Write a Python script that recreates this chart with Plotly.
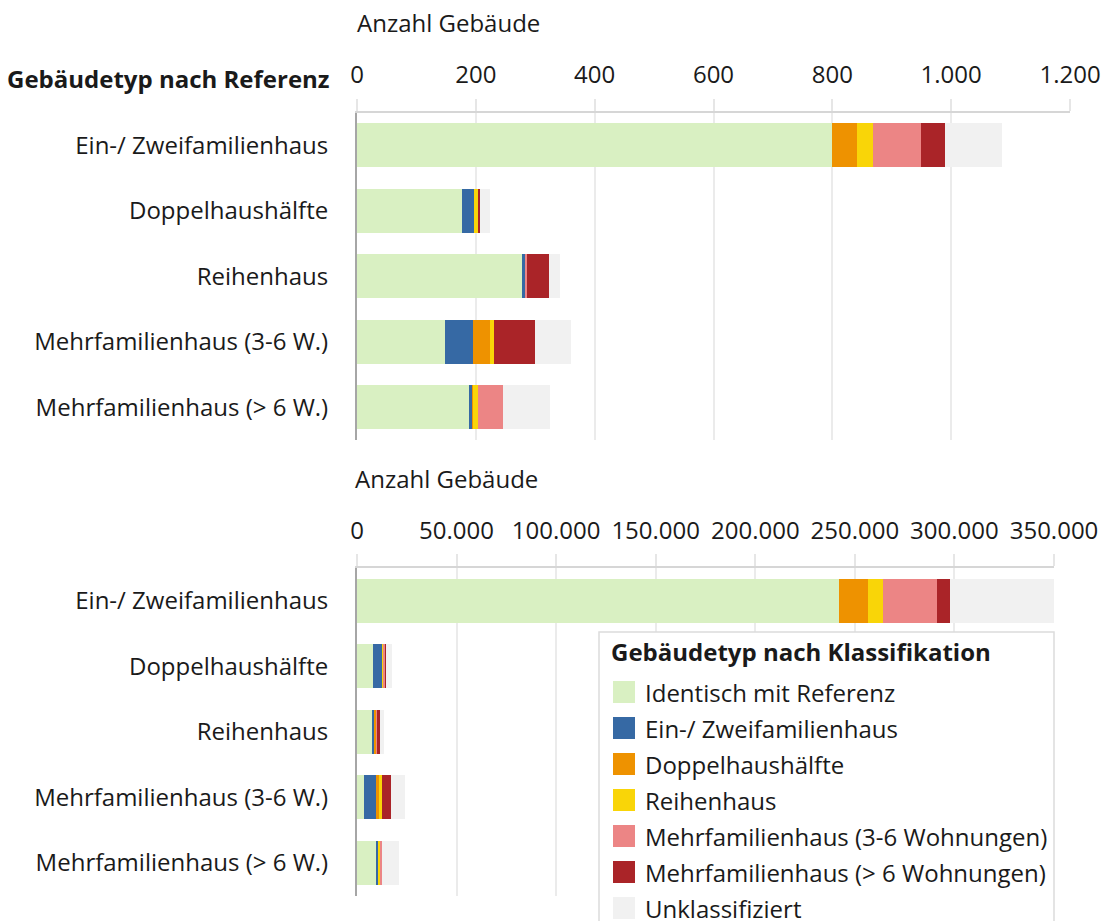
import plotly.graph_objects as go

W, H = 1103, 921

categories = ["Ein-/ Zweifamilienhaus", "Doppelhaushälfte", "Reihenhaus",
              "Mehrfamilienhaus (3-6 W.)", "Mehrfamilienhaus (> 6 W.)"]
series_names = ["Identisch mit Referenz", "Ein-/ Zweifamilienhaus", "Doppelhaushälfte",
                "Reihenhaus", "Mehrfamilienhaus (3-6 Wohnungen)",
                "Mehrfamilienhaus (> 6 Wohnungen)", "Unklassifiziert"]
colors = ["#D9F0C2", "#3669A4", "#EE9200", "#F9D508", "#EC8585", "#AA2428", "#F1F1F1"]

# top chart (sample)
top_identisch = [799, 177, 278, 148, 189]
top_efh = [0, 20, 6, 47, 6]
top_dhh = [42, 0, 0, 28, 1]
top_rh = [28, 7, 0, 8, 7]
top_mfh36 = [81, 1, 2, 0, 42]
top_mfh6 = [39, 2, 37, 69, 0]
top_unkl = [97, 17, 19, 61, 79]
top_values = [top_identisch, top_efh, top_dhh, top_rh, top_mfh36, top_mfh6, top_unkl]

# bottom chart (total)
bot_identisch = [241800, 7900, 7500, 3400, 9900]
bot_efh = [0, 4800, 1400, 6200, 700]
bot_dhh = [15000, 0, 700, 1300, 300]
bot_rh = [7100, 500, 0, 1800, 700]
bot_mfh36 = [27200, 1300, 700, 0, 1000]
bot_mfh6 = [6700, 300, 1000, 4400, 0]
bot_unkl = [53000, 2800, 2100, 6800, 8300]
bot_values = [bot_identisch, bot_efh, bot_dhh, bot_rh, bot_mfh36, bot_mfh6, bot_unkl]

top_tickvals = [0, 200, 400, 600, 800, 1000, 1200]
top_ticktext = ["0", "200", "400", "600", "800", "1.000", "1.200"]
bot_tickvals = [0, 50000, 100000, 150000, 200000, 250000, 300000, 350000]
bot_ticktext = ["0", "50.000", "100.000", "150.000", "200.000", "250.000", "300.000", "350.000"]

FONT = "Open Sans"
FS = 24
TXT = "#1a1a1a"


def px(x):
    return x / W


def py(y):
    return 1 - y / H


fig = go.Figure()
for name, col, tv, bv in zip(series_names, colors, top_values, bot_values):
    fig.add_trace(go.Bar(x=tv, y=categories, orientation="h", name=name,
                         marker=dict(color=col, line=dict(width=0)),
                         xaxis="x", yaxis="y", showlegend=False))
    fig.add_trace(go.Bar(x=bv, y=categories, orientation="h", name=name,
                         marker=dict(color=col, line=dict(width=0)),
                         xaxis="x2", yaxis="y2", showlegend=False))

xcommon = dict(side="top", showgrid=True, gridcolor="#EBEBEB", gridwidth=1.5,
               showline=True, linecolor="#D6D6D6", linewidth=1.5,
               ticks="outside", ticklen=12, tickcolor="#E6E6E6", tickwidth=1.5,
               ticklabelstandoff=6, zeroline=False, automargin=False,
               tickfont=dict(family=FONT, size=FS, color=TXT))
ycommon = dict(autorange="reversed", showline=True, linecolor="#A6A6A6", linewidth=2,
               ticks="", showgrid=False, ticklabelstandoff=22, automargin=False,
               tickfont=dict(family=FONT, size=FS, color=TXT))

fig.update_layout(
    template="none",
    width=W, height=H, autosize=False,
    margin=dict(l=0, r=0, t=0, b=0, pad=0),
    paper_bgcolor="white", plot_bgcolor="white",
    barmode="stack", bargap=0.335,
    font=dict(family=FONT, size=FS, color=TXT),
    xaxis=dict(domain=[px(357), px(1070)], anchor="y", range=[0, 1200],
               tickvals=top_tickvals, ticktext=top_ticktext, **xcommon),
    yaxis=dict(domain=[py(440), py(112.5)], anchor="x", **ycommon),
    xaxis2=dict(domain=[px(357), px(1054)], anchor="y2", range=[0, 350000],
                tickvals=bot_tickvals, ticktext=bot_ticktext, **xcommon),
    yaxis2=dict(domain=[py(895.5), py(568)], anchor="x2", **ycommon),
)

ann = [
    dict(text="Anzahl Gebäude", x=px(355), y=py(22), xanchor="left", yanchor="middle"),
    dict(text="<b>Gebäudetyp nach Referenz</b>", x=px(332), y=py(78), xanchor="right", yanchor="middle"),
    dict(text="Anzahl Gebäude", x=px(353), y=py(478), xanchor="left", yanchor="middle"),
    dict(text="<b>Gebäudetyp nach Klassifikation</b>", x=px(609), y=py(651), xanchor="left", yanchor="middle"),
]
shapes = [dict(type="rect", xref="paper", yref="paper", x0=px(599), x1=px(1054),
               y0=py(930), y1=py(632), fillcolor="white",
               line=dict(color="#DCDCDC", width=1.5), layer="above")]
for i, (name, col) in enumerate(zip(series_names, colors)):
    yc = 692 + 36 * i
    shapes.append(dict(type="rect", xref="paper", yref="paper",
                       x0=px(613), x1=px(635), y0=py(yc + 11), y1=py(yc - 11),
                       fillcolor=col, line=dict(width=0), layer="above"))
    ann.append(dict(text=name, x=px(643), y=py(yc), xanchor="left", yanchor="middle"))

for a in ann:
    a.update(xref="paper", yref="paper", showarrow=False,
             font=dict(family=FONT, size=FS, color=TXT))
fig.update_layout(annotations=ann, shapes=shapes)

fig.write_html("out.html",
               config={"displayModeBar": False},
               post_script="document.body.style.margin='0';document.body.style.overflow='hidden';")
